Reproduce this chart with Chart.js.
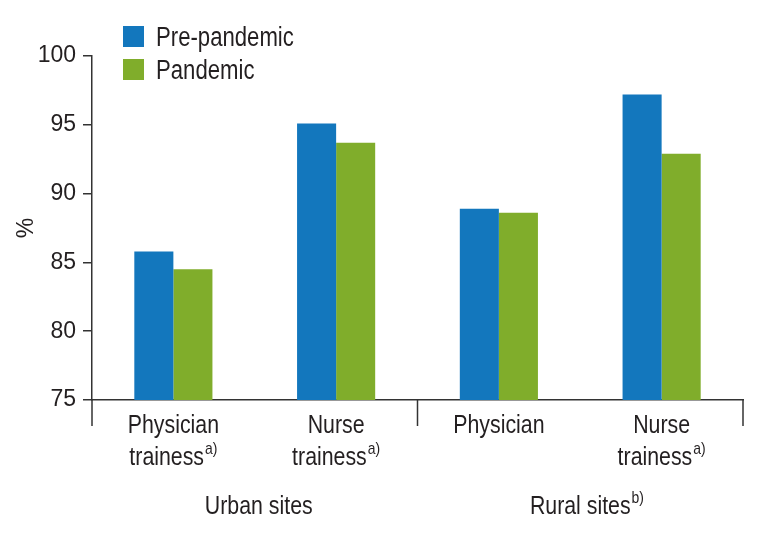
<!DOCTYPE html>
<html>
<head>
<meta charset="utf-8">
<script src="https://cdn.jsdelivr.net/npm/chart.js@4"></script>
<style>
  html, body { margin: 0; padding: 0; background: #ffffff; }
  #wrap { width: 759px; height: 535px; position: relative; }
</style>
</head>
<body>
<div id="wrap"><canvas id="c" width="759" height="535"></canvas></div>
<script>
// ---- data ----
const categories = [['Physician', 'trainess'], ['Nurse', 'trainess'], ['Physician'], ['Nurse', 'trainess']];
const categoryNotes = ['a)', 'a)', '', 'a)'];
const groups = ['Urban sites', 'Rural sites'];
const groupNotes = ['', 'b)'];
const groupSpans = [[0, 1], [2, 3]];
const prePandemic = [85.8, 95.1, 88.9, 97.2];
const pandemic = [84.5, 93.7, 88.6, 92.9];
const seriesNames = ['Pre-pandemic', 'Pandemic'];
const yTicks = [75, 80, 85, 90, 95, 100];
const yTitle = '%';

const FONT = '"Liberation Sans", Arial, sans-serif';
const NARROW = 0.82;
const TEXT = '#231f20';
const AXIS = '#333333';
const BLUE = '#1377bd';
const GREEN = '#80ad2b';

function narrowText(ctx, text, x, y, font) {
  ctx.save();
  ctx.font = font;
  ctx.translate(x, y);
  ctx.scale(NARROW, 1);
  ctx.textAlign = 'left';
  ctx.textBaseline = 'alphabetic';
  ctx.fillText(text, 0, 0);
  ctx.restore();
}
function narrowWidth(ctx, text, font) {
  ctx.save();
  ctx.font = font;
  const w = ctx.measureText(text).width * NARROW;
  ctx.restore();
  return w;
}

const decorations = {
  id: 'decorations',
  afterDraw(chart) {
    const ctx = chart.ctx;
    const xs = chart.scales.x;
    const area = chart.chartArea;
    ctx.save();
    // group separators
    const n = categories.length;
    const boundaries = [xs.left];
    groupSpans.forEach(s => {
      const last = s[1];
      if (last < n - 1) boundaries.push((xs.getPixelForValue(last) + xs.getPixelForValue(last + 1)) / 2);
    });
    boundaries.push(xs.right);
    ctx.strokeStyle = AXIS;
    ctx.lineWidth = 1.5;
    boundaries.forEach(bx => {
      ctx.beginPath();
      ctx.moveTo(bx, area.bottom);
      ctx.lineTo(bx, area.bottom + 26);
      ctx.stroke();
    });
    // category labels
    ctx.fillStyle = TEXT;
    const mainFont = '26px ' + FONT;
    const supFont = '17px ' + FONT;
    categories.forEach((lines, i) => {
      const cx = xs.getPixelForValue(i);
      lines.forEach((line, j) => {
        const y = area.bottom + 32.5 + j * 32.3;
        const isLast = j === lines.length - 1;
        const note = isLast ? categoryNotes[i] : '';
        const w = narrowWidth(ctx, line, mainFont);
        const ws = note ? narrowWidth(ctx, note, supFont) + 1 : 0;
        const x0 = cx - (w + ws) / 2;
        narrowText(ctx, line, x0, y, mainFont);
        if (note) narrowText(ctx, note, x0 + w + 1, y - 11, supFont);
      });
    });
    // group labels
    groups.forEach((g, k) => {
      const a = boundaries[k], b = boundaries[k + 1];
      const cx = (a + b) / 2 + (groupNotes[k] ? 0 : 4);
      const w = narrowWidth(ctx, g, mainFont);
      const x0 = cx - w / 2;
      narrowText(ctx, g, x0, area.bottom + 114, mainFont);
      if (groupNotes[k]) narrowText(ctx, groupNotes[k], x0 + w + 1, area.bottom + 114 - 11, supFont);
    });
    // legend
    chart.data.datasets.forEach((d, k) => {
      const top = area.top - 30 + k * 33;
      ctx.fillStyle = d.backgroundColor;
      ctx.fillRect(area.left + 31, top, 21, 21);
      ctx.fillStyle = TEXT;
      narrowText(ctx, d.label, area.left + 64, top + 20, '27px ' + FONT);
    });
    ctx.restore();
  }
};

new Chart(document.getElementById('c'), {
  type: 'bar',
  data: {
    labels: categories.map(c => c.join(' ')),
    datasets: [
      { label: seriesNames[0], data: prePandemic, backgroundColor: BLUE, categoryPercentage: 0.48, barPercentage: 1.0 },
      { label: seriesNames[1], data: pandemic, backgroundColor: GREEN, categoryPercentage: 0.48, barPercentage: 1.0 }
    ]
  },
  options: {
    responsive: false,
    animation: false,
    devicePixelRatio: 1,
    layout: { padding: { top: 56, right: 16, bottom: 127, left: 0 } },
    plugins: { legend: { display: false }, tooltip: { enabled: false }, title: { display: false } },
    scales: {
      x: {
        offset: true,
        grid: { display: false },
        border: { display: true, color: AXIS, width: 1.5 },
        ticks: { display: false }
      },
      y: {
        min: yTicks[0],
        max: yTicks[yTicks.length - 1],
        afterFit(s) { s.width = 92; },
        afterBuildTicks(s) { s.ticks = yTicks.map(v => ({ value: v })); },
        grid: { drawOnChartArea: false, drawTicks: true, tickLength: 9, color: AXIS, lineWidth: 1.5 },
        border: { display: true, color: AXIS, width: 1.5 },
        ticks: { padding: 7, color: TEXT, font: { family: FONT, size: 23 } },
        title: { display: true, text: yTitle, color: TEXT, font: { family: FONT, size: 23, lineHeight: 1.2 }, padding: { top: 13, bottom: 0 } }
      }
    }
  },
  plugins: [decorations]
});
</script>
</body>
</html>
